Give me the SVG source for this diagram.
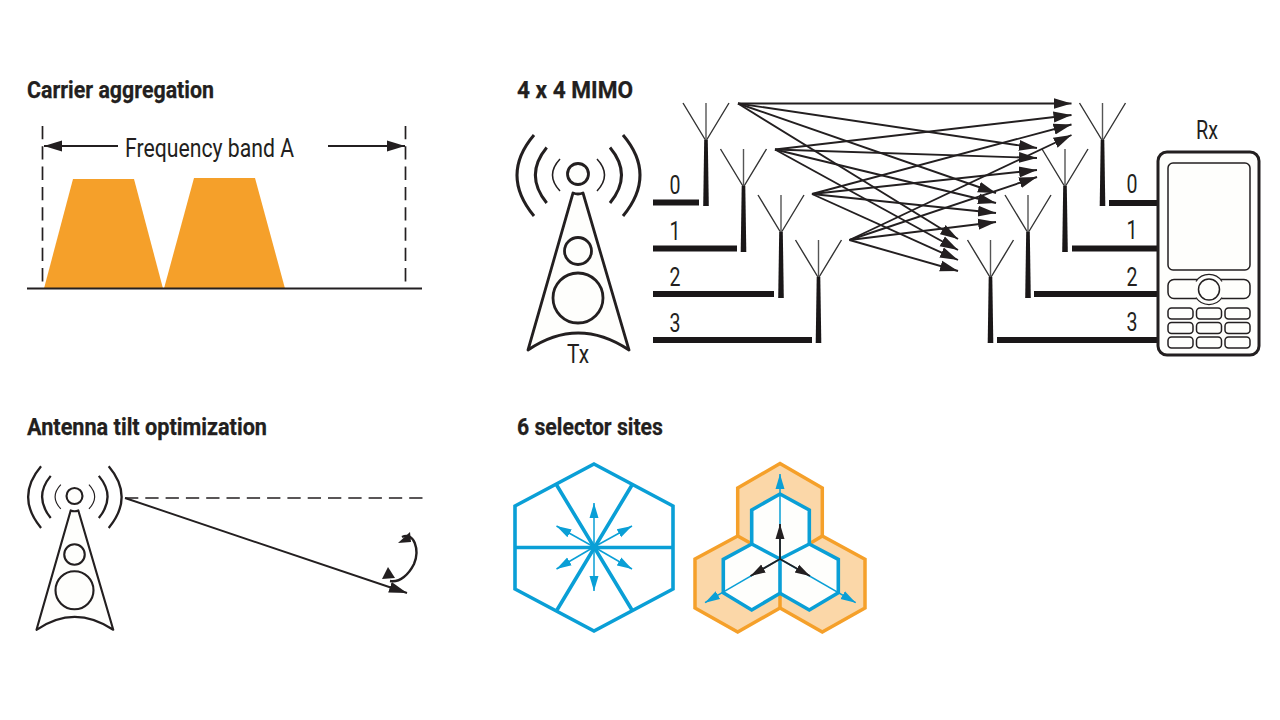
<svg xmlns="http://www.w3.org/2000/svg" xmlns:xlink="http://www.w3.org/1999/xlink" width="1280" height="720" viewBox="0 0 1280 720">
<style>
text{font-family:"Roboto","Liberation Sans",sans-serif;fill:#231f20}
.t{font-size:23px;font-weight:700;stroke:#231f20;stroke-width:.25}
.l{font-size:25px}
.k{stroke:#231f20;fill:none}
.a{stroke:#231f20;stroke-width:1.9;fill:none;marker-end:url(#ah)}
.f{stroke:#1a1718;stroke-width:6;fill:none}
.b{stroke:#0a9fd6;stroke-width:3.6;fill:none}
.bt{stroke:#0a9fd6;stroke-width:1.5;fill:none;marker-end:url(#bh)}
.kt{stroke:#231f20;stroke-width:1.8;fill:none;marker-end:url(#kh)}
.d{stroke:#231f20;stroke-width:1.7;fill:none;stroke-dasharray:13.300 7}
.p{fill:#fefefc;stroke:#231f20;stroke-width:1.5}
</style>
<defs>
<marker id="ah" markerUnits="userSpaceOnUse" markerWidth="19" markerHeight="13" refX="18" refY="6.500" orient="auto"><path d="M0,1L18,6.500L0,12Z" fill="#231f20"/></marker>
<marker id="bh" markerUnits="userSpaceOnUse" markerWidth="16" markerHeight="11" refX="15" refY="5.500" orient="auto"><path d="M0,1L15,5.500L0,10Z" fill="#0a9fd6"/></marker>
<marker id="kh" markerUnits="userSpaceOnUse" markerWidth="16" markerHeight="11" refX="15" refY="5.500" orient="auto"><path d="M0,1L15,5.500L0,10Z" fill="#231f20"/></marker>
<g id="ant">
<path d="M-23,0L0,38L23,0" stroke="#333" stroke-width="1.4" fill="none"/>
<path d="M0,0V38" stroke="#555" stroke-width="1.4" fill="none"/>
<path d="M-1.800,37H1.800L2.800,103H-2.800Z" fill="#1a1718"/>
</g>
<g id="tower">
<path d="M573,193Q578,195 583,193L629,350Q578,316 528,350Z" fill="#fefefc" stroke="#231f20" stroke-width="2.800" stroke-linejoin="round"/>
<circle cx="578" cy="174" r="10.500" fill="#fefefc" stroke="#231f20" stroke-width="2.800"/>
<circle cx="578" cy="251" r="13.500" fill="#fefefc" stroke="#231f20" stroke-width="2.800"/>
<circle cx="578" cy="298" r="25" fill="#fefefc" stroke="#231f20" stroke-width="2.800"/>
<g fill="none" stroke="#231f20" stroke-width="3">
<path d="M534,135Q500,175 534,216"/>
<path d="M546.700,147.500Q524,175 546.700,203"/>
<path d="M623,135Q657,175 623,216"/>
<path d="M610,147.500Q633,175 610,203"/>
<path d="M560,159Q545,175 560,191" stroke-width="1.500"/>
<path d="M597,159Q612,175 597,191" stroke-width="1.500"/>
</g>
</g>
</defs>
<rect width="1280" height="720" fill="#fff"/>

<g id="carrier-aggregation">
<text class="t" x="27" y="98" textLength="187" lengthAdjust="spacingAndGlyphs">Carrier aggregation</text>
<path d="M44,288.500L73,179H134L163,288.500Z" fill="#f5a02a"/>
<path d="M164,288.500L194,178H255L285,288.500Z" fill="#f5a02a"/>
<path class="d" d="M42.500,126V284M405.500,126V284"/>
<path class="k" stroke-width="1.800" d="M27,288.500H422"/>
<path class="a" d="M118,146H44"/>
<path class="a" d="M328,146H405"/>
<text class="l" x="125" y="156.500" textLength="169" lengthAdjust="spacingAndGlyphs">Frequency band A</text>
</g>

<g id="mimo-title"><text class="t" x="517" y="98" textLength="116" lengthAdjust="spacingAndGlyphs">4 x 4 MIMO</text></g>
<g id="tx"><use href="#tower"/><text class="l" x="567" y="362.500" textLength="22" lengthAdjust="spacingAndGlyphs">Tx</text></g>

<g id="tx-antennas">
<use href="#ant" x="706" y="103"/><use href="#ant" x="743.500" y="149"/><use href="#ant" x="781" y="195"/><use href="#ant" x="818.500" y="240"/>
<path class="f" d="M653,202.500H699M653,248.500H737M653,294H774M653,340H812"/>
<text class="l" x="669.500" y="194" textLength="11" lengthAdjust="spacingAndGlyphs">0</text><text class="l" x="669.500" y="240" textLength="11" lengthAdjust="spacingAndGlyphs">1</text><text class="l" x="669.500" y="286" textLength="11" lengthAdjust="spacingAndGlyphs">2</text><text class="l" x="669.500" y="332" textLength="11" lengthAdjust="spacingAndGlyphs">3</text>
</g>

<g id="rx-antennas">
<use href="#ant" x="1102.500" y="103"/><use href="#ant" x="1065" y="149"/><use href="#ant" x="1028" y="195"/><use href="#ant" x="990.500" y="240"/>
<path class="f" d="M1109,203H1158M1072,248.500H1158M1034,294H1158M997,340H1158"/>
<text class="l" x="1126.500" y="193" textLength="11" lengthAdjust="spacingAndGlyphs">0</text><text class="l" x="1126.500" y="239" textLength="11" lengthAdjust="spacingAndGlyphs">1</text><text class="l" x="1126.500" y="285.500" textLength="11" lengthAdjust="spacingAndGlyphs">2</text><text class="l" x="1126.500" y="331" textLength="11" lengthAdjust="spacingAndGlyphs">3</text>
</g>

<g id="connectors">
<path class="a" d="M738,103.500L1071.500,103.500"/><path class="a" d="M738,103.500L1037,148"/><path class="a" d="M738,103.500L996,193"/><path class="a" d="M738,103.500L958,239"/>
<path class="a" d="M775,149.500L1071.500,115"/><path class="a" d="M775,149.500L1037,158"/><path class="a" d="M775,149.500L996,203"/><path class="a" d="M775,149.500L958,250"/>
<path class="a" d="M812,194L1071.500,124.500"/><path class="a" d="M812,194L1037,170"/><path class="a" d="M812,194L996,213"/><path class="a" d="M812,194L958,260"/>
<path class="a" d="M849.500,240L1071.500,135"/><path class="a" d="M849.500,240L1037,177"/><path class="a" d="M849.500,240L996,222"/><path class="a" d="M849.500,240L958,271"/>
</g>

<g id="rx">
<rect x="1158" y="152" width="101" height="203" rx="9" fill="#fefefc" stroke="#231f20" stroke-width="3"/>
<rect class="p" x="1168" y="163" width="82" height="107" rx="5"/>
<rect class="p" x="1168" y="279.500" width="82" height="19" rx="6"/>
<circle cx="1209" cy="289.500" r="15.500" fill="#fefefc"/>
<path d="M1196,281.500A15.500,15.500 0 0 1 1222,281.500M1196,297.500A15.500,15.500 0 0 0 1222,297.500" fill="none" stroke="#231f20" stroke-width="1.200"/>
<circle cx="1209" cy="289.500" r="10.500" class="p"/>
<rect class="p" x="1168" y="308" width="25" height="11" rx="3.500"/><rect class="p" x="1196.500" y="308" width="25" height="11" rx="3.500"/><rect class="p" x="1225" y="308" width="25" height="11" rx="3.500"/>
<rect class="p" x="1168" y="322.500" width="25" height="11" rx="3.500"/><rect class="p" x="1196.500" y="322.500" width="25" height="11" rx="3.500"/><rect class="p" x="1225" y="322.500" width="25" height="11" rx="3.500"/>
<rect class="p" x="1168" y="337" width="25" height="11" rx="3.500"/><rect class="p" x="1196.500" y="337" width="25" height="11" rx="3.500"/><rect class="p" x="1225" y="337" width="25" height="11" rx="3.500"/>
<text class="l" x="1196" y="138.500" textLength="22" lengthAdjust="spacingAndGlyphs">Rx</text>
</g>

<g id="antenna-tilt">
<text class="t" x="27" y="435" textLength="240" lengthAdjust="spacingAndGlyphs">Antenna tilt optimization</text>
<use href="#tower" transform="translate(74.500,496) scale(.76) translate(-578,-174)"/>
<path class="d" d="M125,498H424"/>
<path class="a" d="M125,498L407,593"/>
<path class="k" stroke-width="2.400" d="M402,537C414,531 420,550 414,564C409,574 400,583 390,581"/>
<path d="M398,543L410,532L411,542Z" fill="#231f20"/>
<path d="M388,567L382,579L395,578Z" fill="#231f20"/>
</g>

<g id="selector-title"><text class="t" x="517" y="435" textLength="146" lengthAdjust="spacingAndGlyphs">6 selector sites</text></g>

<g id="hex-six">
<path class="b" d="M594,464L673,506V589L594,631L515,589V506Z"/>
<path class="b" d="M515,547.500H673M556,484L632,610M632,485L557,610"/>
<path class="bt" d="M594,547L594,503"/><path class="bt" d="M594,547L594,591"/>
<path class="bt" d="M594,547L632,526"/><path class="bt" d="M594,547L556.500,526"/>
<path class="bt" d="M594,547L556.500,569"/><path class="bt" d="M594,547L632,569"/>
<circle cx="594" cy="547.500" r="3.500" fill="#0a9fd6"/>
</g>

<g id="hex-three">
<path d="M780,463.500L822.300,488V536L865,559.300V608L822.300,632L780,608L737.700,632L695,608V559L737.700,536V488Z" fill="#fbd7a8" stroke="#f5a02a" stroke-width="3.500"/>
<path d="M780,593V608M737.700,536L752,544M822.300,536L809,544" fill="none" stroke="#f5a02a" stroke-width="3.500"/>
<path class="b" style="fill:#fefefc" d="M780,494L809.300,510V544L838.300,559.300V592.700L809.300,610L780,593.300L751.700,610L723.300,592.700V559.300L751.700,544V510Z"/>
<path class="b" d="M780,559V593M780,559L751.700,544M780,559L809.300,544"/>
<path class="bt" d="M780,559L780,474"/><path class="bt" d="M780,559L705,602.700"/><path class="bt" d="M780,559L855.700,602.700"/>
<path class="kt" d="M780,559L780,524"/><path class="kt" d="M780,559L750.500,576"/><path class="kt" d="M780,559L810,576"/>
</g>
</svg>
